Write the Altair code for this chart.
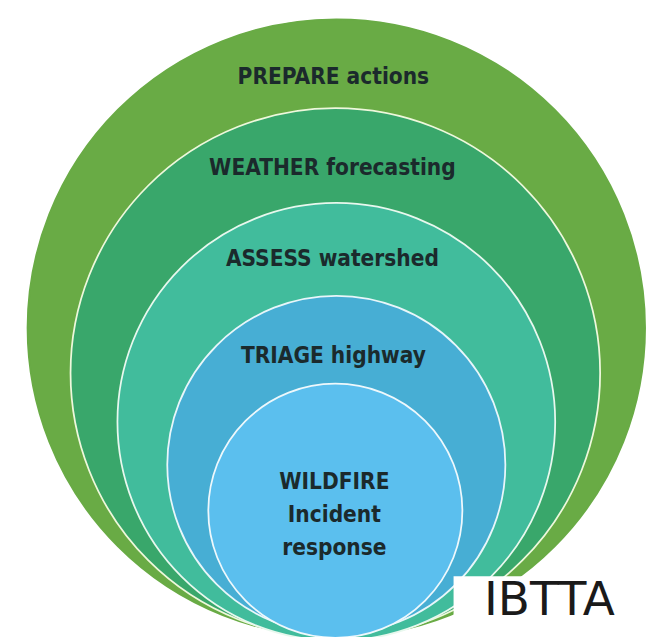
import altair as alt
import pandas as pd

# Nested rings (outermost first)
labels = ["PREPARE actions", "WEATHER forecasting", "ASSESS watershed",
          "TRIAGE highway", "WILDFIRE\nIncident\nresponse"]
center_x = [344, 343, 344, 344, 343]
center_y = [326, 372, 422, 466, 513]
radius = [316, 271, 224, 173, 130]
fills = ["#69ab45", "#39a76b", "#41bc9c", "#47aed4", "#5bbfee"]
strokes = ["#69ab45", "#eef8dc", "#e8f8ee", "#e8f6fa", "#eef8fc"]
label_x = [341, 340, 340, 341, 342]
label_y = [76, 169, 263, 362, 491]

logo_text = ["IBTTA"]
logo_box_x = [464, 660]
logo_box_y = [580, 640]
logo_pos = [562, 620]

circles = pd.DataFrame({
    "label": labels, "cx": center_x, "cy": center_y, "r": radius,
    "fill": fills, "stroke": strokes, "order": list(range(len(labels))),
})
texts = pd.DataFrame({"label": labels, "x": label_x, "y": label_y})
box = pd.DataFrame({"x": [logo_box_x[0]], "x2": [logo_box_x[1]],
                    "y": [logo_box_y[0]], "y2": [logo_box_y[1]]})
logo = pd.DataFrame({"t": logo_text, "x": [logo_pos[0]], "y": [logo_pos[1]]})

# plot area placed at page offset (8, 15); scales map data 1:1 to page pixels
W, H = 641, 607
X0, Y0 = 8, 15
xs = alt.Scale(domain=[X0, X0 + W])
ys = alt.Scale(domain=[Y0, Y0 + H], reverse=True)

base_font = "Liberation Sans Narrow, DejaVu Sans Condensed, Arial Narrow, sans-serif"

# Vega circle symbols: size = (diameter)^2
circ = alt.Chart(circles).transform_calculate(
    area="4 * datum.r * datum.r"
).mark_circle(opacity=1, strokeWidth=1.8, strokeOpacity=1).encode(
    x=alt.X("cx:Q", scale=xs, axis=None),
    y=alt.Y("cy:Q", scale=ys, axis=None),
    size=alt.Size("area:Q", scale=None),
    color=alt.Color("fill:N", scale=None),
    stroke=alt.Stroke("stroke:N", scale=None),
    order=alt.Order("order:Q"),
)

txt = alt.Chart(texts).transform_calculate(
    lab="split(datum.label, '\\n')"
).mark_text(
    font=base_font, fontSize=23, fontWeight="bold", color="#1b2a2c",
    align="center", baseline="alphabetic", lineHeight=33.5,
).encode(
    x=alt.X("x:Q", scale=xs, axis=None),
    y=alt.Y("y:Q", scale=ys, axis=None),
    text="lab:N",
)

rect = alt.Chart(box).mark_rect(color="white").encode(
    x=alt.X("x:Q", scale=xs, axis=None), x2="x2:Q",
    y=alt.Y("y:Q", scale=ys, axis=None), y2="y2:Q",
)

logo_t = alt.Chart(logo).mark_text(
    font="DejaVu Sans, Liberation Sans, sans-serif", fontSize=48, color="#1a1a1a",
    align="center", baseline="alphabetic",
).encode(
    x=alt.X("x:Q", scale=xs, axis=None),
    y=alt.Y("y:Q", scale=ys, axis=None),
    text="t:N",
)

chart = alt.layer(circ, txt, rect, logo_t).properties(
    width=W, height=H, padding=0, background="white"
).configure_view(stroke=None)

chart.save("out.html", embed_options={"renderer": "svg", "actions": False})
